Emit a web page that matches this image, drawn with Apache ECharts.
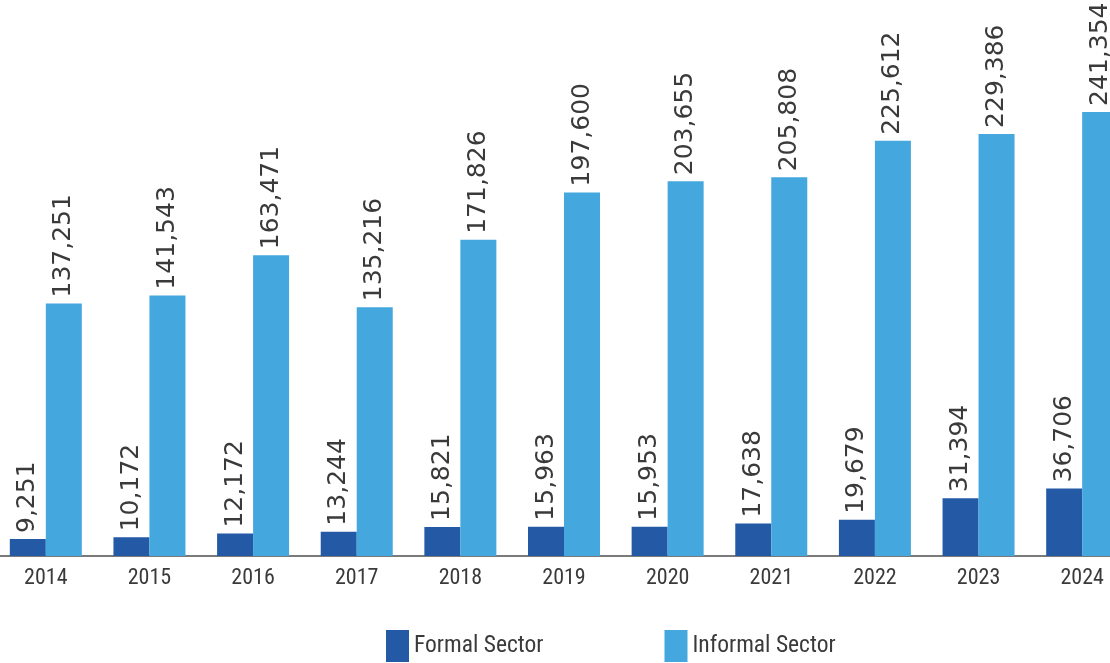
<!DOCTYPE html>
<html>
<head>
<meta charset="utf-8">
<script src="https://cdn.jsdelivr.net/npm/echarts@6/dist/echarts.min.js"></script>
<style>
  html, body { margin: 0; padding: 0; background: #fff; overflow: hidden; }
  /* the original chart is cropped on both sides, so the canvas is a bit wider than the window */
  #chart { position: absolute; left: -6px; top: 0; width: 1140px; height: 663px; }
</style>
</head>
<body>
<div id="chart"></div>
<script>
const years = ['2014', '2015', '2016', '2017', '2018', '2019', '2020', '2021', '2022', '2023', '2024']
const formal = [9251, 10172, 12172, 13244, 15821, 15963, 15953, 17638, 19679, 31394, 36706]
const informal = [137251, 141543, 163471, 135216, 171826, 197600, 203655, 205808, 225612, 229386, 241354]
const seriesNames = ['Formal Sector', 'Informal Sector']
const colors = ['#2459a6', '#44a7de']

const chart = echarts.init(document.getElementById('chart'))

const valueLabel = {
  show: true,
  position: 'top',
  rotate: 90,
  align: 'left',
  verticalAlign: 'middle',
  distance: 6,
  fontFamily: 'DejaVu Sans',
  fontSize: 25,
  color: '#3a3a3a',
  formatter: (p) => p.value.toLocaleString('en-US')
}

chart.setOption({
  animation: false,
  color: colors,
  grid: {
    left: 0,
    right: 0,
    top: 4,
    bottom: 107,
    containLabel: false
  },
  legend: {
    data: seriesNames,
    left: 387,
    top: 625,
    itemWidth: 23,
    itemHeight: 32,
    itemGap: 121,
    icon: 'rect',
    textStyle: {
      fontFamily: 'Roboto Condensed',
      fontSize: 23.5,
      color: '#3a3a3a'
    }
  },
  xAxis: {
    type: 'category',
    data: years,
    axisTick: { show: false },
    axisLine: { lineStyle: { color: '#7a7a7a', width: 2 } },
    axisLabel: {
      margin: 11,
      fontFamily: 'Roboto Condensed',
      fontSize: 22,
      color: '#3a3a3a'
    }
  },
  yAxis: {
    type: 'value',
    min: 0,
    max: 300000,
    show: false,
    splitLine: { show: false }
  },
  series: [
    {
      name: seriesNames[0],
      type: 'bar',
      barWidth: 36,
      barGap: '0%',
      data: formal,
      label: valueLabel
    },
    {
      name: seriesNames[1],
      type: 'bar',
      barWidth: 36,
      barGap: '0%',
      data: informal,
      label: valueLabel
    }
  ]
})
</script>
</body>
</html>
